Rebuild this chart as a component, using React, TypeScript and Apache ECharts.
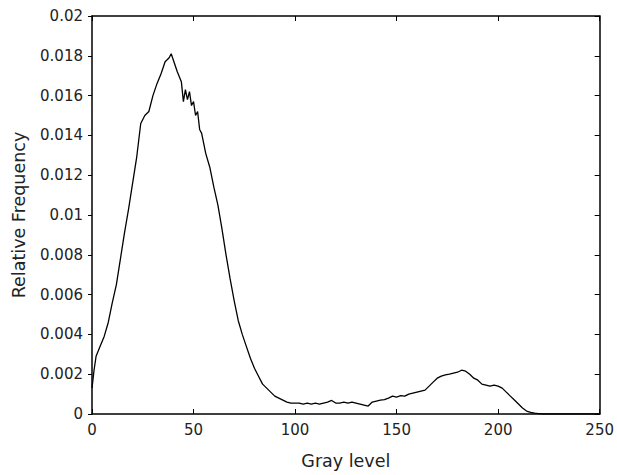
import React, { useEffect, useRef } from "react";
import * as echarts from "echarts";

const grayLevels = [
  0, 1, 2, 4, 6, 8, 10, 12, 14, 16, 18, 20, 22, 24, 26, 28, 30, 32, 34, 36, 38, 39, 40, 42, 44, 45, 46, 47, 48, 49, 50,
  51, 52, 53, 54, 56, 58, 60, 62, 64, 66, 68, 70, 72, 74, 76, 78, 80, 82, 84, 86, 88, 90, 92, 94, 96, 98, 100,
  102, 104, 106, 108, 110, 112, 114, 116, 118, 120, 122, 124, 126, 128, 130, 132, 134, 136, 138, 140, 142, 144,
  146, 148, 150, 152, 154, 156, 158, 160, 162, 164, 166, 168, 170, 172, 174, 176, 178, 180, 182, 184, 186, 188,
  190, 192, 194, 196, 198, 200, 202, 204, 206, 208, 210, 212, 214, 216, 218, 220, 222, 230, 250,
];

const relFreq = [
  0.0013, 0.0022, 0.0029, 0.0034, 0.0039, 0.0046, 0.0056, 0.0065, 0.0078, 0.0091, 0.0103, 0.0116, 0.0129, 0.0146,
  0.015, 0.0152, 0.016, 0.0166, 0.0171, 0.0177, 0.0179, 0.0181, 0.0178, 0.0172, 0.0167, 0.0157, 0.0163, 0.0158,
  0.0162, 0.0155, 0.0157, 0.015, 0.0152, 0.0143, 0.0141, 0.0131, 0.0124, 0.0114, 0.0105, 0.0093, 0.008, 0.0068,
  0.0057, 0.0047, 0.004, 0.0034, 0.0028, 0.0023, 0.0019, 0.0015, 0.0013, 0.0011, 0.0009, 0.0008, 0.0007, 0.0006,
  0.00055, 0.00055, 0.00055, 0.0005, 0.00055, 0.0005, 0.00055, 0.0005, 0.00055, 0.0006, 0.00068, 0.00055, 0.00055,
  0.0006, 0.00055, 0.0006, 0.00055, 0.0005, 0.00045, 0.0004, 0.0006, 0.00065, 0.0007, 0.00072, 0.0008, 0.0009,
  0.00085, 0.00092, 0.0009, 0.001, 0.00105, 0.0011, 0.00115, 0.0012, 0.0014, 0.0016, 0.0018, 0.0019, 0.00197,
  0.002, 0.00205, 0.0021, 0.0022, 0.00215, 0.002, 0.0018, 0.0017, 0.0015, 0.00145, 0.0014, 0.00145, 0.0014, 0.0013,
  0.0011, 0.0009, 0.0007, 0.0005, 0.0003, 0.00015, 0.00008, 0.00004, 0.00002, 0, 0, 0,
];

const xTicks = { min: 0, max: 250, interval: 50 };
const yTicks = { min: 0, max: 0.02, interval: 0.002 };

export default function App() {
  const ref = useRef<HTMLDivElement>(null);
  useEffect(() => {
    if (!ref.current) return;
    const chart = echarts.init(ref.current, undefined, { renderer: "svg" });
    const font = "DejaVu Sans";
    const textColor = "#222";
    const axisLine = { show: true, onZero: false, lineStyle: { color: "#000", width: 1.5 } };
    const tick = { show: true, inside: true, length: 5, lineStyle: { color: "#000", width: 1 } };
    const tickOut = { show: true, inside: false, length: 4, lineStyle: { color: "#000", width: 1 } };
    chart.setOption({
      animation: false,
      backgroundColor: "#fff",
      grid: { left: 92, right: 15, top: 16, bottom: 59 },
      xAxis: [
        {
          type: "value",
          ...xTicks,
          position: "bottom",
          name: "Gray level",
          nameLocation: "middle",
          nameGap: 38,
          nameTextStyle: { fontFamily: font, fontSize: 17.5, color: textColor },
          axisLine,
          axisTick: tick,
          axisLabel: { fontFamily: font, fontSize: 15, color: textColor, margin: 8 },
          splitLine: { show: false },
        },
        {
          type: "value",
          ...xTicks,
          position: "top",
          axisLine,
          axisTick: tick,
          axisLabel: { show: false },
          splitLine: { show: false },
        },
      ],
      yAxis: [
        {
          type: "value",
          ...yTicks,
          position: "left",
          name: "Relative Frequency",
          nameLocation: "middle",
          nameGap: 64,
          nameTextStyle: { fontFamily: font, fontSize: 17.5, color: textColor },
          axisLine,
          axisTick: tickOut,
          axisLabel: { fontFamily: font, fontSize: 15, color: textColor, margin: 9 },
          splitLine: { show: false },
        },
        {
          type: "value",
          ...yTicks,
          position: "right",
          axisLine,
          axisTick: tick,
          axisLabel: { show: false },
          splitLine: { show: false },
        },
      ],
      series: [
        {
          type: "line",
          data: grayLevels.map((g, i) => [g, relFreq[i]]),
          showSymbol: false,
          lineStyle: { color: "#000", width: 1.3 },
          xAxisIndex: 0,
          yAxisIndex: 0,
        },
      ],
    });
    return () => chart.dispose();
  }, []);
  return <div ref={ref} style={{ width: 617, height: 475, position: "absolute", left: 0, top: 0 }} />;
}
